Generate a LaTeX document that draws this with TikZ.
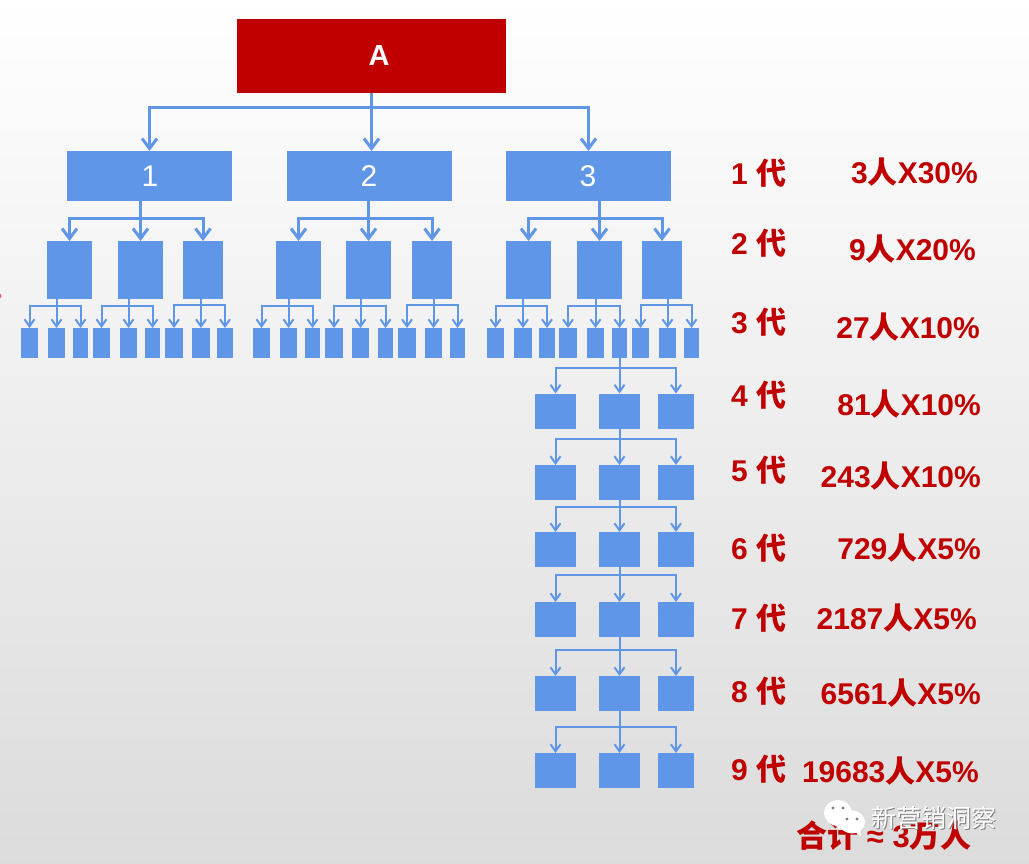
\documentclass[tikz,border=0pt]{standalone}
\usepackage{fontspec}
\setmainfont{Liberation Sans}
\newfontfamily\cjk{Noto Sans CJK SC}
\usetikzlibrary{arrows.meta}
\definecolor{boxblue}{HTML}{5F96E8}
\definecolor{topred}{HTML}{C00000}
\tikzset{
  bx/.style={fill=boxblue,inner sep=0pt,outer sep=0pt},
  bigarrow/.style={boxblue,line width=3pt,-{Straight Barb[length=10pt,width=15pt]}},
  midarrow/.style={boxblue,line width=2pt,-{Straight Barb[length=7pt,width=10pt]}},
  gen/.style={text=topred,font=\fontsize{30}{36}\selectfont\bfseries,inner sep=0pt,anchor=west},
  rate/.style={text=topred,font=\fontsize{30}{36}\selectfont\bfseries,inner sep=0pt,anchor=east},
}
\newcommand{\ren}{{\cjk\bfseries 人}}
\newcommand{\dai}{{\cjk\bfseries 代}}
\newcommand{\fan}[6]{%
  \draw[#1] (#4.north |- #2.south) -- (#4.north);
  \path (#4.north |- #2.south) ++(0,#6) coordinate (#2bus);
  \draw[#1] (#2bus) -| (#3.north);
  \draw[#1] (#2bus) -| (#5.north);
}
\begin{document}
\begin{tikzpicture}[x=1pt,y=-1pt]
\useasboundingbox (0,0) rectangle (1029,864);
\shade[top color=white,middle color=white!96!black,bottom color=white!86!black] (0,0) rectangle (1029,864);
\fill[magenta!70!white] (-1,296) circle (2.5);
% top of the tree
\node[fill=topred,minimum width=269pt,minimum height=74pt,inner sep=0pt,outer sep=0pt] (A) at (371.5,56) {};
\node[text=white,font=\fontsize{29}{34}\selectfont\bfseries,inner sep=0pt] (Atext) at (379,56) {A};
\foreach \nm/\cx in {p1/149.5,p2/369.5,p3/588.5}
  \node[bx,minimum width=165pt,minimum height=50pt] (\nm) at (\cx,176) {};
\node[text=white,font=\fontsize{30}{36}\selectfont] (one) at (150,176) {1};
\node[text=white,font=\fontsize{30}{36}\selectfont] (two) at (369,176) {2};
\node[text=white,font=\fontsize{30}{36}\selectfont] (three) at (588,176) {3};
% second row
\foreach \nm/\xa/\xb in {g1/47/92,g2/118/163,g3/183/223,g4/276/321,g5/346/391,g6/412/452,g7/506/551,g8/577/622,g9/642/682}
  \node[bx,minimum width={(\xb-\xa)*1pt},minimum height=58pt] (\nm) at ({(\xa+\xb)/2},270) {};
% third row
\foreach \nm/\xa/\xb in {s1/21/38,s2/48/65,s3/73/88,s4/93/110,s5/120/137,s6/145/160,s7/165/183,s8/192/210,s9/217/233,
  s10/253/270,s11/280/297,s12/305/320,s13/325/343,s14/352/369,s15/378/393,s16/398/416,s17/425/442,s18/450/465,
  s19/487/504,s20/514/532,s21/539/555,s22/559/577,s23/587/604,s24/612/627,s25/632/649,s26/659/676,s27/684/699}
  \node[bx,minimum width={(\xb-\xa)*1pt},minimum height=30pt] (\nm) at ({(\xa+\xb)/2},343) {};
% the long branch
\foreach \rw/\cy in {r4/411,r5/482.5,r6/549.5,r7/619.5,r8/693.5,r9/770.5} {
  \node[bx,minimum width=41pt,minimum height=35pt] (\rw a) at (555.5,\cy) {};
  \node[bx,minimum width=41pt,minimum height=35pt] (\rw b) at (619.5,\cy) {};
  \node[bx,minimum width=36pt,minimum height=35pt] (\rw c) at (676,\cy) {};
}
% connectors
\draw[bigarrow] (A.south) -- (A.south |- p2.north);
\path (A.south) ++(0,15) coordinate (Abus);
\draw[bigarrow] (Abus) -| (p1.north);
\draw[bigarrow] (Abus) -| (p3.north);
\fan{bigarrow}{p1}{g1}{g2}{g3}{18}
\fan{bigarrow}{p2}{g4}{g5}{g6}{18}
\fan{bigarrow}{p3}{g7}{g8}{g9}{18}
\fan{midarrow}{g1}{s1}{s2}{s3}{7}
\fan{midarrow}{g2}{s4}{s5}{s6}{7}
\fan{midarrow}{g3}{s7}{s8}{s9}{6}
\fan{midarrow}{g4}{s10}{s11}{s12}{7}
\fan{midarrow}{g5}{s13}{s14}{s15}{7}
\fan{midarrow}{g6}{s16}{s17}{s18}{6}
\fan{midarrow}{g7}{s19}{s20}{s21}{7}
\fan{midarrow}{g8}{s22}{s23}{s24}{7}
\fan{midarrow}{g9}{s25}{s26}{s27}{6}
\fan{midarrow}{s24}{r4a}{r4b}{r4c}{10}
\fan{midarrow}{r4b}{r5a}{r5b}{r5c}{10}
\fan{midarrow}{r5b}{r6a}{r6b}{r6c}{7}
\fan{midarrow}{r6b}{r7a}{r7b}{r7c}{8}
\fan{midarrow}{r7b}{r8a}{r8b}{r8c}{13}
\fan{midarrow}{r8b}{r9a}{r9b}{r9c}{16}
% labels on the right
\node[gen] (d1) at (731,173) {1 \dai};
\node[gen] (d2) at (731,243) {2 \dai};
\node[gen] (d3) at (731,322) {3 \dai};
\node[gen] (d4) at (731,395) {4 \dai};
\node[gen] (d5) at (731,470) {5 \dai};
\node[gen] (d6) at (731,548) {6 \dai};
\node[gen] (d7) at (731,618) {7 \dai};
\node[gen] (d8) at (731,691) {8 \dai};
\node[gen] (d9) at (731,769) {9 \dai};
\node[rate] (n1) at (978,172) {3\ren X30\%};
\node[rate] (n2) at (976,249) {9\ren X20\%};
\node[rate] (n3) at (980,327) {27\ren X10\%};
\node[rate] (n4) at (981,404) {81\ren X10\%};
\node[rate] (n5) at (981,476) {243\ren X10\%};
\node[rate] (n6) at (981,548) {729\ren X5\%};
\node[rate] (n7) at (977,618) {2187\ren X5\%};
\node[rate] (n8) at (981,693) {6561\ren X5\%};
\node[rate] (n9) at (979,771) {19683\ren X5\%};
\node[rate,font=\fontsize{31}{36}\selectfont\bfseries] (total) at (972,836) {{\cjk\bfseries 合计} ≈ 3{\cjk\bfseries 万人}};
% watermark
\fill[white] (838,813) ellipse (14 and 13);
\fill[white] (834,824) -- (840,830) -- (842,824) -- cycle;
\fill[white] (852,822) ellipse (13 and 11.5);
\fill[white] (860,830) -- (861,836) -- (855,832) -- cycle;
\foreach \ex/\ey in {833/808,843/808,847/819,857/819}
  \fill[gray] (\ex,\ey) circle (1.6);
\node[text=gray,font=\fontsize{25}{30}\cjk,inner sep=0pt,anchor=west] (wmshadow) at (871.8,818.8) {新营销洞察};
\node[text=white,font=\fontsize{25}{30}\cjk,inner sep=0pt,anchor=west] (wm) at (871,818) {新营销洞察};
\end{tikzpicture}
\end{document}
